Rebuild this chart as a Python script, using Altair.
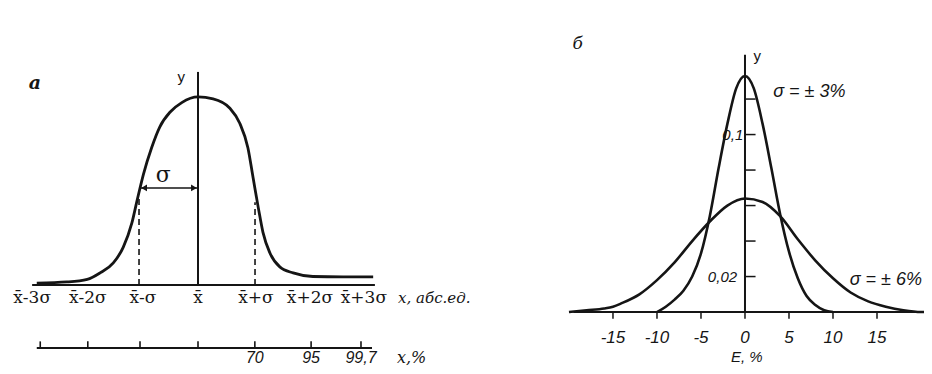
import altair as alt
import pandas as pd

# ---------------- panel а : normal curve, x in sigma units ----------------
a_u = [-2.78, -2.26, -1.91, -1.69, -1.46, -1.29, -1.14, -1.05, -0.94, -0.80, -0.66, -0.48, -0.28, 0.0,
       0.26, 0.55, 0.72, 0.86, 0.95, 1.04, 1.12, 1.24, 1.41, 1.64, 1.98, 2.5, 3.02]
a_h = [0.010, 0.016, 0.030, 0.064, 0.117, 0.20, 0.33, 0.45, 0.59, 0.73, 0.84, 0.92, 0.97, 1.0,
       0.99, 0.94, 0.86, 0.73, 0.57, 0.41, 0.28, 0.17, 0.096, 0.064, 0.045, 0.043, 0.043]
a_label_pos = [-2.86, -1.9, -0.95, 0.0, 1.0, 1.93, 2.86]
a_labels = ["x\u0304-3σ", "x\u0304-2σ", "x\u0304-σ", "x\u0304", "x\u0304+σ", "x\u0304+2σ", "x\u0304+3σ"]
a_pct_pos = [-2.72, -1.9, -1.0, 0.0, 0.98, 1.95, 2.81]
a_pct_labels = ["", "", "", "", "70", "95", "99,7"]

# ---------------- panel б : two error distributions ----------------
b_e3 = [-10, -9, -8, -7, -6, -5, -4, -3, -2, -1, 0, 1, 2, 3, 4, 5, 6, 7, 8, 9, 10]
b_y3 = [0.000, 0.003, 0.007, 0.012, 0.020, 0.033, 0.054, 0.081, 0.106, 0.126, 0.133,
        0.126, 0.106, 0.081, 0.055, 0.034, 0.019, 0.009, 0.004, 0.001, 0.000]
b_e6 = [-20, -18, -16, -15, -14, -12, -10, -8, -6, -4, -2, 0, 2, 4, 6, 8, 10, 12, 14, 16, 18, 20, 21]
b_y6 = [0.000, 0.001, 0.002, 0.003, 0.005, 0.010, 0.018, 0.028, 0.040, 0.051, 0.060, 0.064,
        0.062, 0.054, 0.041, 0.029, 0.019, 0.011, 0.006, 0.003, 0.001, 0.000, 0.000]
b_xticks = [-15, -10, -5, 0, 5, 10, 15]
b_xlabels = ["-15", "-10", "-5", "0", "5", "10", "15"]
b_yticks = [0.02, 0.04, 0.06, 0.08, 0.10, 0.12]

INK = "#151515"
SERIF = "DejaVu Serif"
SANS = "Liberation Sans"
H = 358

# ---------- scales ----------
ua = dict(scale=alt.Scale(domain=[-3.276, 4.862], nice=False, zero=False), axis=None)
ha = dict(scale=alt.Scale(domain=[-0.431, 1.473], nice=False, zero=False), axis=None)
eb = dict(scale=alt.Scale(domain=[-30.11, 20.34], nice=False, zero=False), axis=None)
yb = dict(scale=alt.Scale(domain=[-0.0304, 0.1713], nice=False, zero=False), axis=None)


def rules_a(df, width=1.8, dash=None):
    kw = dict(color=INK, strokeWidth=width)
    if dash:
        kw["strokeDash"] = dash
    return alt.Chart(df).mark_rule(**kw).encode(
        x=alt.X("u:Q", **ua), x2="u2:Q", y=alt.Y("h:Q", **ha), y2="h2:Q")


def text_a(df, **kw):
    return alt.Chart(df).mark_text(color=INK, clip=True, **kw).encode(
        x=alt.X("u:Q", **ua), y=alt.Y("h:Q", **ha), text="t:N")


curve_a = alt.Chart(pd.DataFrame({"u": a_u, "h": a_h})).mark_line(
    color=INK, strokeWidth=2.8, interpolate="monotone").encode(
    x=alt.X("u:Q", **ua), y=alt.Y("h:Q", **ha))

axes_a = rules_a(pd.DataFrame({
    "u": [-2.86, 0.0, -2.78], "u2": [3.05, 0.0, 3.0],
    "h": [0.0, 0.0, -0.335], "h2": [0.0, 1.133, -0.335]}), width=2.0)
pct_ticks = rules_a(pd.DataFrame({
    "u": a_pct_pos, "u2": a_pct_pos,
    "h": [-0.335] * len(a_pct_pos), "h2": [-0.30] * len(a_pct_pos)}), width=1.6)
dashed = rules_a(pd.DataFrame({
    "u": [-1.017, 0.983], "u2": [-1.017, 0.983], "h": [0.0, 0.0], "h2": [0.48, 0.44]}),
    width=1.6, dash=[6, 4])
arrow_line = rules_a(pd.DataFrame({"u": [-1.0], "u2": [0.0], "h": [0.516], "h2": [0.516]}), width=1.4)
arrow_l = alt.Chart(pd.DataFrame({"u": [-0.93], "h": [0.516]})).mark_point(
    shape="triangle-left", filled=True, color=INK, size=45, opacity=1).encode(
    x=alt.X("u:Q", **ua), y=alt.Y("h:Q", **ha))
arrow_r = alt.Chart(pd.DataFrame({"u": [-0.07], "h": [0.516]})).mark_point(
    shape="triangle-right", filled=True, color=INK, size=45, opacity=1).encode(
    x=alt.X("u:Q", **ua), y=alt.Y("h:Q", **ha))

lab_a = text_a(pd.DataFrame({"u": a_label_pos, "h": [-0.069] * 7, "t": a_labels}),
               font=SERIF, fontSize=17, baseline="middle", align="center")
pct_lab = text_a(pd.DataFrame({"u": a_pct_pos, "h": [-0.39] * 7, "t": a_pct_labels}),
                 font=SANS, fontSize=16, fontStyle="italic", baseline="middle", align="center")
xunit = text_a(pd.DataFrame({"u": [3.45], "h": [-0.069], "t": ["x, абс.ед."]}),
               font=SERIF, fontSize=15, fontStyle="italic", baseline="middle", align="left")
xpct = text_a(pd.DataFrame({"u": [3.43], "h": [-0.39], "t": ["x,%"]}),
              font=SERIF, fontSize=16, fontStyle="italic", baseline="middle", align="left")
sig = text_a(pd.DataFrame({"u": [-0.6], "h": [0.585], "t": ["σ"]}),
             font=SERIF, fontSize=22, baseline="middle", align="center")
tag_a = text_a(pd.DataFrame({"u": [-2.81], "h": [1.074], "t": ["а"]}),
               font=SERIF, fontSize=19, fontStyle="italic", fontWeight="bold", baseline="middle", align="center")
ylab_a = text_a(pd.DataFrame({"u": [-0.29], "h": [1.106], "t": ["y"]}),
                font=SANS, fontSize=15, baseline="middle", align="center")

panel_a = alt.layer(axes_a, pct_ticks, dashed, arrow_line, arrow_l, arrow_r, curve_a,
                    lab_a, pct_lab, xunit, xpct, sig, tag_a, ylab_a).properties(width=472, height=H)


# ---------------- panel б ----------------
def rules_b(df, width=1.8):
    return alt.Chart(df).mark_rule(color=INK, strokeWidth=width, clip=True).encode(
        x=alt.X("e:Q", **eb), x2="e2:Q", y=alt.Y("y:Q", **yb), y2="y2:Q")


def text_b(df, **kw):
    return alt.Chart(df).mark_text(color=INK, clip=True, **kw).encode(
        x=alt.X("e:Q", **eb), y=alt.Y("y:Q", **yb), text="t:N")


curves_b = alt.Chart(pd.concat([
    pd.DataFrame({"e": b_e3, "y": b_y3, "s": "σ3"}),
    pd.DataFrame({"e": b_e6, "y": b_y6, "s": "σ6"})])).mark_line(
    color=INK, strokeWidth=2.6, interpolate="monotone", clip=True).encode(
    x=alt.X("e:Q", **eb), y=alt.Y("y:Q", **yb), detail="s:N")

axes_b = rules_b(pd.DataFrame({"e": [-19.5, 0.0], "e2": [20.34, 0.0],
                               "y": [0.0, 0.0], "y2": [0.0, 0.145]}), width=2.0)
xt_b = rules_b(pd.DataFrame({"e": b_xticks, "e2": b_xticks,
                             "y": [0.0] * 7, "y2": [-0.0038] * 7}), width=1.5)
yt_b = rules_b(pd.DataFrame({"e": [0.0] * 6, "e2": [1.2] * 6,
                             "y": b_yticks, "y2": b_yticks}), width=1.5)
xl_b = text_b(pd.DataFrame({"e": b_xticks, "y": [-0.0146] * 7, "t": b_xlabels}),
              font=SANS, fontSize=17, fontStyle="italic", baseline="middle", align="center")
yl_b = text_b(pd.DataFrame({"e": [-0.9, -0.2], "y": [0.02, 0.10], "t": ["0,02", "0,1"]}),
              font=SANS, fontSize=15, fontStyle="italic", baseline="middle", align="right")
s3 = text_b(pd.DataFrame({"e": [3.2], "y": [0.124], "t": ["σ = ± 3%"]}),
            font=SANS, fontSize=18, fontStyle="italic", baseline="middle", align="left")
s6 = text_b(pd.DataFrame({"e": [11.9], "y": [0.018], "t": ["σ = ± 6%"]}),
            font=SANS, fontSize=18, fontStyle="italic", baseline="middle", align="left")
elab = text_b(pd.DataFrame({"e": [0.2], "y": [-0.0299], "t": ["E, %"]}),
              font=SANS, fontSize=15, fontStyle="italic", baseline="bottom", align="center")
tag_b = text_b(pd.DataFrame({"e": [-19.0], "y": [0.151], "t": ["б"]}),
               font=SERIF, fontSize=17, fontStyle="italic", baseline="middle", align="center")
ylab_b = text_b(pd.DataFrame({"e": [1.4], "y": [0.1445], "t": ["y"]}),
                font=SANS, fontSize=15, baseline="middle", align="center")

panel_b = alt.layer(axes_b, xt_b, yt_b, curves_b, xl_b, yl_b, s3, s6, elab, tag_b, ylab_b).properties(
    width=444, height=H)

chart = alt.hconcat(panel_a, panel_b, spacing=0, bounds="flush").properties(
    padding=0, background="white").configure_view(stroke=None)

chart.save("out.html", embed_options={"renderer": "svg", "actions": False})
